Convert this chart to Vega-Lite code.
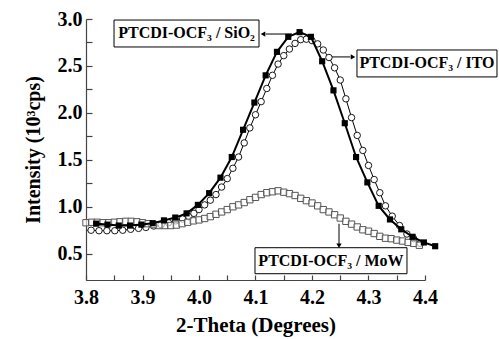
{
  "$schema": "https://vega.github.io/schema/vega-lite/v6.json",
  "width": 339,
  "height": 261,
  "autosize": {"type": "none"},
  "padding": {"left": 86, "top": 19, "right": 74, "bottom": 59},
  "background": "white",
  "config": {"view": {"stroke": null}, "font": "Liberation Serif"},
  "datasets": {
    "sio2": [
      {"x": 3.818, "y": 0.82}, {"x": 3.838, "y": 0.81}, {"x": 3.858, "y": 0.80}, {"x": 3.878, "y": 0.80},
      {"x": 3.898, "y": 0.81}, {"x": 3.918, "y": 0.825}, {"x": 3.938, "y": 0.855}, {"x": 3.958, "y": 0.885},
      {"x": 3.978, "y": 0.93}, {"x": 3.998, "y": 1.02}, {"x": 4.018, "y": 1.145}, {"x": 4.038, "y": 1.31},
      {"x": 4.058, "y": 1.53}, {"x": 4.078, "y": 1.82}, {"x": 4.098, "y": 2.11}, {"x": 4.118, "y": 2.40},
      {"x": 4.138, "y": 2.65}, {"x": 4.158, "y": 2.81}, {"x": 4.178, "y": 2.86}, {"x": 4.198, "y": 2.81},
      {"x": 4.218, "y": 2.55}, {"x": 4.238, "y": 2.24}, {"x": 4.258, "y": 1.89}, {"x": 4.278, "y": 1.53},
      {"x": 4.298, "y": 1.26}, {"x": 4.318, "y": 1.01}, {"x": 4.338, "y": 0.865}, {"x": 4.358, "y": 0.76},
      {"x": 4.378, "y": 0.68}, {"x": 4.398, "y": 0.62}, {"x": 4.418, "y": 0.58}
    ],
    "ito": [
      {"x": 3.809, "y": 0.75}, {"x": 3.823, "y": 0.745}, {"x": 3.837, "y": 0.745}, {"x": 3.851, "y": 0.745},
      {"x": 3.865, "y": 0.75}, {"x": 3.879, "y": 0.76}, {"x": 3.893, "y": 0.77}, {"x": 3.906, "y": 0.78},
      {"x": 3.920, "y": 0.795}, {"x": 3.933, "y": 0.81}, {"x": 3.946, "y": 0.83}, {"x": 3.959, "y": 0.85},
      {"x": 3.971, "y": 0.87}, {"x": 3.982, "y": 0.895}, {"x": 3.991, "y": 0.93}, {"x": 4.000, "y": 0.97},
      {"x": 4.010, "y": 1.02}, {"x": 4.020, "y": 1.07}, {"x": 4.030, "y": 1.13}, {"x": 4.040, "y": 1.21},
      {"x": 4.050, "y": 1.30}, {"x": 4.060, "y": 1.41}, {"x": 4.070, "y": 1.53}, {"x": 4.080, "y": 1.68},
      {"x": 4.090, "y": 1.84}, {"x": 4.100, "y": 1.98}, {"x": 4.110, "y": 2.12}, {"x": 4.120, "y": 2.26},
      {"x": 4.130, "y": 2.40}, {"x": 4.140, "y": 2.52}, {"x": 4.150, "y": 2.61}, {"x": 4.160, "y": 2.68},
      {"x": 4.170, "y": 2.74}, {"x": 4.180, "y": 2.78}, {"x": 4.190, "y": 2.785}, {"x": 4.200, "y": 2.77},
      {"x": 4.210, "y": 2.735}, {"x": 4.220, "y": 2.67}, {"x": 4.230, "y": 2.59}, {"x": 4.240, "y": 2.48},
      {"x": 4.250, "y": 2.35}, {"x": 4.260, "y": 2.15}, {"x": 4.270, "y": 1.95}, {"x": 4.280, "y": 1.76},
      {"x": 4.290, "y": 1.60}, {"x": 4.300, "y": 1.44}, {"x": 4.310, "y": 1.29}, {"x": 4.320, "y": 1.15},
      {"x": 4.330, "y": 1.01}, {"x": 4.342, "y": 0.90}, {"x": 4.355, "y": 0.80}, {"x": 4.368, "y": 0.71},
      {"x": 4.380, "y": 0.66}, {"x": 4.392, "y": 0.61}
    ],
    "mow": [
      {"x": 3.80, "y": 0.83}, {"x": 3.81, "y": 0.835}, {"x": 3.82, "y": 0.835}, {"x": 3.83, "y": 0.83},
      {"x": 3.84, "y": 0.83}, {"x": 3.85, "y": 0.835}, {"x": 3.86, "y": 0.84}, {"x": 3.87, "y": 0.845},
      {"x": 3.88, "y": 0.845}, {"x": 3.89, "y": 0.84}, {"x": 3.90, "y": 0.83}, {"x": 3.91, "y": 0.82},
      {"x": 3.92, "y": 0.81}, {"x": 3.93, "y": 0.80}, {"x": 3.94, "y": 0.80}, {"x": 3.95, "y": 0.80},
      {"x": 3.96, "y": 0.805}, {"x": 3.97, "y": 0.82}, {"x": 3.98, "y": 0.835}, {"x": 3.99, "y": 0.85},
      {"x": 4.00, "y": 0.86}, {"x": 4.01, "y": 0.875}, {"x": 4.02, "y": 0.895}, {"x": 4.03, "y": 0.92},
      {"x": 4.04, "y": 0.945}, {"x": 4.05, "y": 0.97}, {"x": 4.06, "y": 1.00}, {"x": 4.07, "y": 1.02},
      {"x": 4.08, "y": 1.045}, {"x": 4.09, "y": 1.075}, {"x": 4.10, "y": 1.10}, {"x": 4.11, "y": 1.13},
      {"x": 4.12, "y": 1.15}, {"x": 4.13, "y": 1.16}, {"x": 4.14, "y": 1.17}, {"x": 4.15, "y": 1.155},
      {"x": 4.16, "y": 1.14}, {"x": 4.17, "y": 1.12}, {"x": 4.18, "y": 1.09}, {"x": 4.19, "y": 1.065},
      {"x": 4.20, "y": 1.04}, {"x": 4.21, "y": 1.01}, {"x": 4.22, "y": 0.97}, {"x": 4.23, "y": 0.945},
      {"x": 4.24, "y": 0.915}, {"x": 4.25, "y": 0.88}, {"x": 4.26, "y": 0.845}, {"x": 4.27, "y": 0.815},
      {"x": 4.28, "y": 0.785}, {"x": 4.29, "y": 0.755}, {"x": 4.30, "y": 0.74}, {"x": 4.31, "y": 0.715},
      {"x": 4.32, "y": 0.685}, {"x": 4.33, "y": 0.665}, {"x": 4.34, "y": 0.66}, {"x": 4.35, "y": 0.645},
      {"x": 4.36, "y": 0.635}, {"x": 4.37, "y": 0.62}, {"x": 4.38, "y": 0.61}, {"x": 4.39, "y": 0.59}
    ],
    "boxes": [
      {"label": "PTCDI-OCF₃ / SiO₂", "x": 3.8496, "x2": 4.1062, "y": 2.702, "y2": 2.989, "tx": 3.978, "ty": 2.846},
      {"label": "PTCDI-OCF₃ / ITO", "x": 4.2796, "x2": 4.5274, "y": 2.383, "y2": 2.670, "tx": 4.4035, "ty": 2.527},
      {"label": "PTCDI-OCF₃ / MoW", "x": 4.0991, "x2": 4.3681, "y": 0.287, "y2": 0.564, "tx": 4.2336, "ty": 0.426}
    ],
    "arrows": [
      {"x": 4.1646, "x2": 4.118, "y": 2.84, "y2": 2.84},
      {"x": 4.2354, "x2": 4.268, "y": 2.596, "y2": 2.596},
      {"x": 4.2478, "x2": 4.2478, "y": 0.819, "y2": 0.60}
    ],
    "heads": [
      {"x": 4.1133, "y": 2.84, "shape": "triangle-left"},
      {"x": 4.2726, "y": 2.596, "shape": "triangle-right"},
      {"x": 4.2478, "y": 0.585, "shape": "triangle-down"}
    ]
  },
  "encoding": {
    "x": {
      "field": "x", "type": "quantitative",
      "scale": {"domain": [3.8, 4.4], "nice": false, "zero": false},
      "axis": {
        "title": "2-Theta (Degrees)",
        "values": [3.8, 3.85, 3.9, 3.95, 4.0, 4.05, 4.1, 4.15, 4.2, 4.25, 4.3, 4.35, 4.4],
        "labelExpr": "round(datum.value*100) % 10 == 0 ? format(datum.value, '.1f') : ''",
        "grid": false, "tickSize": -5, "labelPadding": 12, "labelOverlap": false, "labelFlush": false,
        "domainColor": "#444", "tickColor": "#444", "domainWidth": 1.2, "tickWidth": 1.2,
        "labelFont": "Liberation Serif", "labelFontSize": 20, "labelFontWeight": "bold", "labelColor": "black",
        "titleFont": "Liberation Serif", "titleFontSize": 21, "titleFontWeight": "bold", "titleColor": "black", "titlePadding": 7
      }
    },
    "y": {
      "field": "y", "type": "quantitative",
      "scale": {"domain": [0.22, 3.0], "nice": false, "zero": false},
      "axis": {
        "title": "Intensity (10³cps)",
        "values": [0.5, 0.75, 1, 1.25, 1.5, 1.75, 2, 2.25, 2.5, 2.75, 3],
        "labelExpr": "round(datum.value*100) % 50 == 0 ? format(datum.value, '.1f') : ''",
        "grid": false, "tickSize": -6, "labelPadding": 10, "labelOverlap": false, "labelFlush": false,
        "domainColor": "#444", "tickColor": "#444", "domainWidth": 1.2, "tickWidth": 1.2,
        "labelFont": "Liberation Serif", "labelFontSize": 20, "labelFontWeight": "bold", "labelColor": "black",
        "titleFont": "Liberation Serif", "titleFontSize": 20, "titleFontWeight": "bold", "titleColor": "black", "titlePadding": 14
      }
    }
  },
  "layer": [
    {"data": {"name": "ito"}, "mark": {"type": "line", "color": "black", "strokeWidth": 1}},
    {"data": {"name": "ito"}, "mark": {"type": "point", "shape": "circle", "filled": false, "fill": "white", "fillOpacity": 1, "stroke": "black", "strokeWidth": 0.9, "size": 42, "opacity": 1}},
    {"data": {"name": "mow"}, "mark": {"type": "point", "shape": "square", "filled": false, "fill": "white", "fillOpacity": 0.6, "stroke": "#555", "strokeWidth": 1, "size": 40, "opacity": 1}},
    {"data": {"name": "sio2"}, "mark": {"type": "line", "color": "black", "strokeWidth": 2}},
    {"data": {"name": "sio2"}, "mark": {"type": "point", "shape": "square", "filled": true, "color": "black", "size": 38, "opacity": 1}},
    {"data": {"name": "boxes"}, "mark": {"type": "rect", "fill": "white", "stroke": "black", "strokeWidth": 1},
     "encoding": {"x2": {"field": "x2"}, "y2": {"field": "y2"}}},
    {"data": {"name": "boxes"}, "mark": {"type": "text", "font": "Liberation Serif", "fontSize": 16, "fontWeight": "bold", "color": "black", "align": "center", "baseline": "middle"},
     "encoding": {"x": {"field": "tx", "type": "quantitative"}, "y": {"field": "ty", "type": "quantitative"}, "text": {"field": "label"}}},
    {"data": {"name": "arrows"}, "mark": {"type": "rule", "color": "black", "strokeWidth": 1},
     "encoding": {"x2": {"field": "x2"}, "y2": {"field": "y2"}}},
    {"data": {"name": "heads"}, "mark": {"type": "point", "filled": true, "color": "black", "size": 28, "opacity": 1},
     "encoding": {"shape": {"field": "shape", "type": "nominal", "scale": null}}}
  ]
}
